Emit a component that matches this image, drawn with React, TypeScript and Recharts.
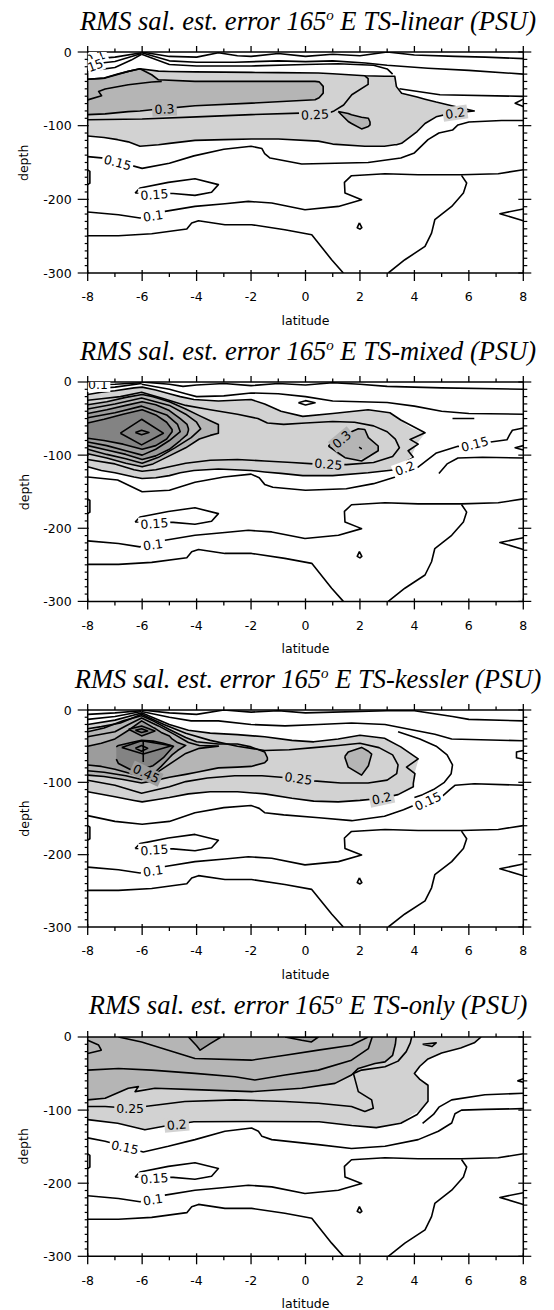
import React from "react";
import { ComposedChart, Line, Area, Scatter, XAxis, YAxis } from "recharts";

// [latitude, depth]
type Pt = [number, number];
// [latitude, lower depth, upper depth]
type Band = [number, number, number];
// [latitude, depth, text, angle, background colour]
type Lbl = [number, number, string, number, string];

const LAT_TICKS = [-8, -7, -6, -5, -4, -3, -2, -1, 0, 1, 2, 3, 4, 5, 6, 7, 8];
const DEPTH_TICKS = [
  0, -10, -20, -30, -40, -50, -60, -70, -80, -90, -100, -110, -120, -130, -140, -150,
  -160, -170, -180, -190, -200, -210, -220, -230, -240, -250, -260, -270, -280, -290, -300,
];

const LIGHT = "#d2d2d2";
const MED = "#b5b5b5";
const DARK = "#9c9c9c";
const DARKEST = "#838383";
const WHITE = "#ffffff";

// ---- contours shared by all four sections (below ~150 m) ----
const lowIsland015: Pt[] = [[-6.26, -191.5], [-6.08, -184.7], [-5.04, -177], [-4.06, -172], [-3.2, -180], [-3.45, -190.5], [-4.06, -194.6], [-4.86, -192], [-6.26, -191.5]];
const low010: Pt[] = [[-8, -217.2], [-6.87, -220.9], [-6.08, -225.4], [-5.16, -216.3], [-4.06, -209.6], [-2.96, -205.9], [-2.1, -202.8], [-1.24, -205], [-0.02, -214.1], [1.21, -209.6], [2.06, -200.5], [1.45, -191.5], [1.43, -177], [1.69, -167.9], [2.92, -165.2], [4.14, -166.6], [5.73, -166.6], [7.08, -165.2], [8, -159.8]];
const low005West: Pt[] = [[-8, -249.4], [-6.87, -249.4], [-5.65, -246.7], [-4.36, -240.3], [-4.18, -232.2], [-3.93, -229], [-2.96, -234.4], [-1.98, -234.4], [-0.76, -241.2], [0.23, -248], [0.96, -282], [1.39, -300]];
const low005East: Pt[] = [[3.04, -300], [3.65, -282], [4.39, -263.9], [4.63, -245.8], [4.75, -227.7], [5.37, -209.6], [5.8, -191.5], [5.92, -177.9], [5.73, -167.5]];
const lowWedge: Pt[] = [[8, -213], [7.14, -219.5], [8, -229]];
const lowDrop: Pt[] = [[1.98, -232], [1.9, -238.5], [2.0, -240.5], [2.07, -238.5], [1.98, -232]];
const edgeBracket: Pt[] = [[-8, -160], [-7.92, -162], [-7.92, -178], [-8, -180]];
const COMMON_LINES = [lowIsland015, low010, low005West, low005East, lowWedge, lowDrop, edgeBracket];
const COMMON_LABELS: Lbl[] = [[-5.55, -193.5, "0.15", -4, WHITE], [-5.6, -222.5, "0.1", -8, WHITE]];

// ---- TS-linear ----
const p1TopA: Pt[] = [[-8, -10], [-7, -7], [-6.02, -1]];
const p1TopB: Pt[] = [[-8, -17], [-7, -13], [-6.02, -2]];
const p1TopC: Pt[] = [[-8, -26], [-7, -21], [-6.4, -11], [-6.02, -3]];
const p1Surface: Pt[] = [[-6.02, 0], [-5, -6], [-4, -7], [-3.2, -1], [-2.5, -5], [-2, -6], [-1, -2], [0, -6], [1, -3], [2, -5], [3, 0], [4, -4], [5.5, -6], [6.6, -7], [8, -9]];
const p1Ridge2: Pt[] = [[-6.02, -1], [-5, -12], [-4, -14], [-2.6, -14], [-1, -12], [0, -13], [1, -12], [2.2, -15], [3, -18], [4.5, -22], [6, -25], [8, -30]];
const p1Ridge3: Pt[] = [[-6.02, -3], [-5, -17], [-4, -19], [-2, -19], [0, -17], [1.2, -16], [2.5, -18], [3.0, -23], [3.2, -30]];
const p1East60: Pt[] = [[3.45, -50], [4.94, -58], [8, -60.2]];
const p1Light: Band[] = [[-8, -114, -37], [-7.4, -116, -35.4], [-6.9, -119, -30], [-6.51, -122, -26.3], [-6.08, -128, -22.7], [-5.4, -126, -26], [-5, -124, -26.5], [-4.06, -120, -27], [-3, -119, -27.3], [-1.98, -118, -27.7], [-1, -118, -28], [0.47, -121, -28.6], [1, -125, -29.5], [2.18, -128, -32.2], [2.9, -128, -33], [3.28, -126, -33], [3.34, -126, -47], [3.53, -124, -56], [4.1, -108, -61], [4.39, -97, -64], [4.8, -88, -68], [5.37, -83, -73], [6.2, -80, -80]];
const p1Mid: Band[] = [[-8, -85, -37], [-7.36, -84, -35.4], [-6.51, -81, -26.3], [-6.08, -80, -22.7], [-5.65, -78.4, -30.9], [-5.4, -77.5, -37.7], [-4.06, -73, -39.9], [-1.98, -69.4, -39.9], [0.35, -64.9, -39.9], [0.5, -62, -40.5], [0.65, -55.8, -46.7]];
const p1Notch: Pt[] = [[-8, -65], [-7.49, -59.4], [-7.6, -53.5], [-7.36, -50.3], [-6.51, -44.4], [-5.65, -40.8], [-5.28, -39.9]];
const p1Blob: Band[] = [[1.2, -80.8, -80.8], [1.57, -94.4, -83.5], [1.69, -97, -85.3], [2.06, -104.4, -88.5], [2.31, -101, -89.9], [2.37, -99, -95]];
const p1C025: Pt[] = [[-8, -92], [-6, -91], [-4, -88], [-2, -85], [-0.2, -83], [0.9, -82], [1.05, -80], [1.4, -72], [1.7, -58], [2.3, -44], [2.3, -36], [2.18, -32.5]];
const p1C015: Pt[] = [[-8, -142], [-7.4, -144], [-6, -158], [-5, -151], [-4.1, -141], [-3, -132], [-2, -128], [-1.6, -131], [-1.5, -138], [-1.3, -144], [-0.14, -152], [1.1, -151], [2.3, -150], [3.5, -144], [4, -137], [4.5, -119], [4.9, -110], [5.4, -106], [5.6, -99], [6, -95], [7.2, -93], [8, -93]];
const p1Wedge: Pt[] = [[8, -64], [7.7, -69.5], [8, -74]];
const p1Labels: Lbl[] = [[-7.72, -7, "0.1", -20, WHITE], [-7.72, -18, "15", -20, WHITE], [-5.18, -77.5, "0.3", -3, MED], [0.35, -85, "0.25", -3, LIGHT], [5.5, -83, "0.2", -8, LIGHT], [-6.9, -150, "0.15", 15, WHITE]];

// ---- TS-mixed ----
const p2TopA: Pt[] = [[-8, -4], [-7, -3], [-6.02, -1]];
const p2TopB: Pt[] = [[-8, -10], [-7, -7], [-6.02, -2]];
const p2Surface: Pt[] = [[-6.02, 0], [-5, -3], [-4.5, -6], [-4, -4], [-3, -2], [-2, -5], [-1, -2], [0, -4], [1, -1], [2, -3], [3, -6], [5, -8], [8, -10]];
const p2Ridge2: Pt[] = [[-6.02, -3], [-5, -10], [-4.4, -16], [-4, -20], [-3, -19], [-2, -15], [-1, -16], [0, -20], [1, -26], [2, -27], [3, -28], [4, -33], [5, -40], [6, -43], [8, -44]];
const p2Diamond: Pt[] = [[-0.26, -28.5], [0, -25.5], [0.35, -28.5], [0, -31.5], [-0.26, -28.5]];
const p2Light: Band[] = [[-8, -116, -17], [-7.5, -121, -14], [-7, -124, -12], [-6.3, -130, -8], [-6, -132, -7], [-5.5, -131, -11], [-5, -128, -16], [-4.6, -124, -20], [-4.1, -121, -24], [-3.2, -119, -26], [-2, -121, -24], [-1.5, -123, -30], [-0.9, -125, -40], [-0.1, -128, -47], [1, -128, -43], [2.3, -124, -38], [3.1, -121, -42], [3.5, -116, -52], [3.7, -110, -58], [3.9, -100, -63], [4.1, -84, -66], [4.39, -70, -70]];
const p2LightEdge: Pt[] = [[-8, -17], [-7.5, -14], [-7, -12], [-6.3, -8], [-6, -7], [-5.5, -11], [-5, -16], [-4.6, -20], [-4.1, -24], [-3.2, -26], [-2, -24], [-1.5, -30], [-0.9, -40], [-0.1, -47], [1, -43], [2.3, -38], [3.1, -42], [3.5, -52], [4.39, -69.5], [3.84, -78.5], [4.14, -85], [3.77, -94], [3.96, -103], [3.65, -110], [3.3, -120], [2.3, -124], [1, -128], [-0.1, -128], [-0.9, -125], [-1.5, -123], [-2, -121], [-3.2, -119], [-4.1, -121], [-4.6, -124], [-5, -128], [-5.5, -131], [-6, -132], [-6.3, -130], [-7, -124], [-7.5, -121], [-8, -116]];
const p2C025: Pt[] = [[-8, -106], [-7, -112], [-6.3, -120], [-6, -122], [-5.5, -120], [-5, -116], [-4.4, -111], [-3.5, -107], [-2.5, -106], [-1.5, -108], [-0.5, -110], [0.3, -112], [1.5, -113], [2.5, -110], [3.2, -102], [3.45, -90], [3.3, -78], [3.0, -68], [2.5, -60], [1.8, -55], [1, -54], [0, -56], [-0.8, -58], [-1.4, -56], [-1.75, -50], [-2.5, -44], [-3.5, -38], [-4.4, -32], [-5.2, -23], [-6.02, -14], [-6.8, -20], [-7.5, -23], [-8, -25]];
const p2Mid: Band[] = [[-8, -98, -31], [-7.3, -104, -27], [-6.6, -111, -21], [-6, -116, -17], [-5.6, -112, -20], [-5, -101, -27], [-4.4, -90, -37], [-3.9, -78, -46], [-3.5, -73, -53], [-3.2, -70, -58]];
const p2C035: Pt[] = [[-8, -37], [-7, -30], [-6.02, -22], [-5, -32], [-4.4, -44], [-4.0, -55], [-3.85, -64], [-4.2, -76], [-4.8, -90], [-5.4, -103], [-6, -111], [-6.6, -105], [-7.3, -99], [-8, -92]];
const p2Dark: Band[] = [[-8, -87, -43], [-7.3, -93, -38], [-6.6, -99, -32], [-6, -106, -27], [-5.5, -101, -31], [-5, -92, -39], [-4.6, -80, -50], [-4.35, -72, -58], [-4.3, -66, -64]];
const p2C045: Pt[] = [[-8, -49], [-7, -42], [-6.02, -33], [-5.1, -45], [-4.7, -58], [-4.6, -68], [-5, -80], [-5.5, -92], [-6, -100], [-6.6, -94], [-7.3, -87], [-8, -82]];
const p2Core: Band[] = [[-8, -77, -56], [-7.4, -80, -51], [-6.7, -85, -44], [-6, -92, -38], [-5.5, -87, -45], [-5.1, -78, -55], [-4.9, -68, -65]];
const p2Ring55: Pt[] = [[-6.8, -70], [-6.02, -51], [-5.22, -70], [-6.02, -86], [-6.8, -70]];
const p2Ring60: Pt[] = [[-6.25, -69], [-6.02, -66], [-5.75, -69], [-6.02, -72], [-6.25, -69]];
const p2Blob: Band[] = [[0.84, -87.5, -87.5], [1.2, -100, -76], [1.45, -103.5, -72], [1.94, -106, -64], [2.18, -104, -65], [2.31, -100, -76], [2.67, -94, -87.5]];
const p2BlobEdge: Pt[] = [[0.84, -87.5], [1.2, -76], [1.94, -64], [2.18, -65], [2.31, -76], [2.67, -87.5], [2.67, -94], [2.06, -108], [1.45, -103.5], [0.84, -87.5]];
const p2BlobDot: Pt[] = [[1.97, -89], [2.05, -91], [1.97, -89]];
const p2C015: Pt[] = [[-8, -130], [-6.9, -134], [-6, -150], [-5, -148], [-4.06, -137], [-3, -130], [-2, -126], [-1.7, -131], [-1.5, -140], [-1.2, -144], [0, -148], [1.5, -146], [2.5, -139], [3.3, -130], [4.04, -119], [4.81, -97], [5.6, -88], [6.2, -85], [6.8, -82], [7.4, -79], [7.5, -72], [7.6, -66], [8, -63]];
const p2East: Pt[] = [[4.9, -125], [5.2, -112], [5.6, -104], [6.5, -103], [8, -104]];
const p2Wedge: Pt[] = [[8, -87], [7.7, -90], [8, -93]];
const p2Dash: Pt[] = [[5.4, -50], [6.2, -50]];
const p2Labels: Lbl[] = [[-7.62, -4, "0.1", 0, WHITE], [1.33, -78.5, "0.3", -40, MED], [0.84, -112.5, "0.25", 5, LIGHT], [3.65, -118, "0.2", -20, WHITE], [6.22, -85, "0.15", -15, WHITE]];

// ---- TS-kessler ----
const p3TopA: Pt[] = [[-8, -6], [-7, -4], [-6.02, -1]];
const p3TopB: Pt[] = [[-8, -13], [-7, -9], [-6.02, -2]];
const p3Surface: Pt[] = [[-6.02, 0], [-5, -4], [-4, -6], [-3, 0], [-2, -3], [-1, -1], [0, -4], [1, -3], [2, -2], [3, -1], [4, -1], [5.4, -9], [6, -13], [8, -15]];
const p3Ridge2: Pt[] = [[-6.02, -2], [-5, -10], [-4.2, -15], [-3.2, -15], [-2, -20], [-0.75, -22], [0.47, -20], [1.69, -18], [2.92, -20], [4.14, -29], [4.75, -33.5], [5.37, -40], [8, -42.6]];
const p3Light: Band[] = [[-8, -113, -20], [-7, -120, -14], [-6.3, -125, -7], [-6, -127, -4], [-5.5, -124, -12], [-5, -121, -20], [-4.3, -116, -28], [-3.5, -113, -32], [-2.5, -113, -34], [-1.5, -116, -37], [-0.5, -122, -42], [0.3, -126, -44], [1.2, -127, -40], [2, -125, -35], [2.8, -122, -39], [3.4, -117, -49], [3.8, -110, -58], [3.96, -104, -63], [4.0, -88, -65], [4.14, -70, -67.5]];
const p3LightEdge: Pt[] = [[-8, -20], [-7, -14], [-6.3, -7], [-6, -4], [-5.5, -12], [-5, -20], [-4.3, -28], [-3.5, -32], [-2.5, -34], [-1.5, -37], [-0.5, -42], [0.3, -44], [1.2, -40], [2, -35], [2.9, -39], [3.5, -51], [4.14, -67.5], [3.71, -79], [4.02, -88], [3.96, -101.5], [3.96, -106], [3.4, -117], [2.8, -122], [2, -125], [1.2, -127], [0.3, -126], [-0.5, -122], [-1.5, -116], [-2.5, -113], [-3.5, -113], [-4.3, -116], [-5, -121], [-5.5, -124], [-6, -127], [-6.3, -125], [-7, -120], [-8, -113]];
const p3C025: Pt[] = [[-8, -97], [-7, -104], [-6.02, -115], [-5, -106], [-4.4, -99], [-3.6, -94], [-2.6, -91], [-1.6, -91], [-0.9, -93], [0.3, -98], [1.3, -101], [2.3, -101], [3, -97], [3.35, -88], [3.4, -76], [3.2, -62], [2.7, -52], [2, -46], [1.2, -49], [0.3, -52], [-0.6, -55], [-1.5, -56], [-2.5, -50], [-3.5, -42], [-4.4, -32], [-5.2, -20], [-6.02, -6], [-6.8, -18], [-7.5, -23], [-8, -26]];
const p3Mid: Band[] = [[-8, -90, -30], [-7.4, -92, -25], [-6.7, -96, -15], [-6.02, -101, -8], [-5.6, -98, -15], [-5, -93, -27], [-4.4, -89, -38], [-4, -86, -44], [-3.2, -80, -47], [-2.5, -79, -47], [-2, -78, -51], [-1.5, -73, -58], [-1.4, -69, -66]];
const p3C035: Pt[] = [[-8, -37], [-7, -30], [-6.5, -20], [-6.02, -11], [-5.4, -22], [-4.8, -34], [-4.3, -45], [-3.9, -49], [-3.2, -50], [-3.9, -53], [-4.4, -60], [-4.8, -70], [-5.2, -80], [-5.6, -90], [-6.02, -96], [-6.6, -91], [-7.4, -86], [-8, -84]];
const p3Dark: Band[] = [[-8, -76, -50], [-7.5, -78, -46], [-7, -82, -40], [-6.5, -87, -28], [-6.02, -91, -15], [-5.6, -87, -24], [-5.5, -85, -26], [-5.3, -78, -31], [-5.0, -66, -36], [-4.9, -62, -40], [-4.7, -56, -45], [-4.4, -49, -49]];
const p3Core: Band[] = [[-6.95, -68, -51], [-6.87, -74, -49], [-6.4, -83, -45], [-6.02, -82, -42], [-5.6, -77, -43], [-5.22, -66, -46], [-4.85, -50, -50]];
const p3UpperPeak: Band[] = [[-6.5, -26.7, -26.7], [-6.02, -35.8, -22.2], [-5.53, -29, -29]];
const p3Eye: Pt[] = [[-6.75, -51.7], [-6.02, -42.6], [-4.92, -49.4], [-5.96, -60.7], [-6.75, -51.7]];
const p3EyeRing: Pt[] = [[-6.25, -53], [-6.02, -49], [-5.8, -53], [-6.02, -57], [-6.25, -53]];
const p3Stem: Pt[] = [[-5.96, -43], [-5.96, -72]];
const p3UpperRing: Pt[] = [[-6.25, -28], [-6.02, -26], [-5.8, -29], [-6.02, -31], [-6.25, -28]];
const p3Blob: Band[] = [[1.45, -66, -64], [1.57, -79, -58], [2.06, -90, -51.7], [2.31, -77, -57], [2.43, -61, -61]];
const p3Outer: Pt[] = [[3.4, -30], [4.2, -40], [4.8, -50], [5.2, -62], [5.4, -76], [5.35, -88], [5.1, -100], [4.7, -110], [4.3, -117], [4.0, -121]];
const p3C015: Pt[] = [[-8, -146], [-7, -154], [-6, -158], [-5, -154], [-4.06, -142], [-3, -135], [-2, -132], [-1.7, -136], [-1.5, -142], [-0.8, -145], [0.5, -149], [1.7, -153], [2.9, -147], [3.6, -138], [4.1, -130], [4.5, -126], [5, -120], [5.3, -110], [5.5, -104], [6.2, -102], [8, -104]];
const p3EdgeC: Pt[] = [[8, -56], [7.75, -58], [7.75, -66], [8, -68]];
const p3Labels: Lbl[] = [[-5.85, -88, "0.45", 25, DARK], [-0.26, -94.7, "0.25", 8, LIGHT], [2.8, -122, "0.2", -12, LIGHT], [4.5, -126, "0.15", -25, WHITE]];

// ---- TS-only ----
const p4Light: Band[] = [[-8, -113, 0], [-6.9, -118, 0], [-5.9, -127, 0], [-5.2, -122, 0], [-4.1, -116, 0], [-2, -115.5, 0], [0.5, -116, 0], [1.7, -121, 0], [2.6, -124, 0], [3.5, -118, 0], [4.0, -104, 0], [4.0, -50, 0], [4.2, -40, 0], [4.5, -30, 0], [5.0, -22, 0], [5.7, -15, 0], [6.2, -8, 0], [6.45, 0, 0]];
const p4LightBulge: Band[] = [[3.95, -106, -50], [4.2, -100, -58], [4.5, -88, -66]];
const p4LightEdge: Pt[] = [[-8, -113], [-6.9, -118], [-5.9, -127], [-5.2, -122], [-4.1, -116], [-2, -115.5], [0.5, -116], [1.7, -121], [2.6, -124], [3.5, -118], [4.1, -106], [4.5, -88], [4.5, -66], [4.2, -58], [4.0, -50], [4.2, -40], [4.5, -30], [5, -22], [5.7, -15], [6.2, -8], [6.45, 0]];
const p4Mid: Band[] = [[-8, -86, 0], [-7.36, -83.8, 0], [-6.9, -76, 0], [-6.51, -70.2, 0], [-6.14, -70, 0], [-5.53, -70.2, 0], [-3.81, -72.4, 0], [-1.98, -74.7, 0], [-0.14, -70.2, 0], [1.08, -63.4, 0], [1.69, -52, 0], [1.94, -43, 0], [2.55, -36.2, 0], [2.92, -34, 0], [3.2, -25, 0], [3.3, -10, 0], [3.33, 0, 0]];
const p4C030: Pt[] = [[-8, -86], [-7.36, -83.8], [-6.51, -70.2], [-6.14, -67.9], [-6.26, -74.7], [-5.53, -70.2], [-3.81, -72.4], [-1.98, -74.7], [-0.14, -70.2], [1.08, -63.4], [1.69, -52], [1.94, -43], [2.55, -36.2], [2.92, -34], [3.2, -25], [3.3, -10], [3.33, 0]];
const p4C035: Pt[] = [[-8, -45.3], [-6.87, -43], [-5.65, -45.3], [-4.06, -49.8], [-2.59, -54.3], [-1.86, -58.9], [-0.75, -52], [0.47, -45.3], [1.69, -31.7], [2.31, -15.8], [2.45, 0]];
const p4C040: Pt[] = [[-6.87, 0], [-6.02, -6.8], [-5.04, -18], [-4.06, -29.4], [-1.98, -31.7], [-0.75, -24.9], [0.47, -18], [1.69, -11.3], [2.3, 0]];
const p4PeakWest: Band[] = [[-4.3, 0, 0], [-4.0, -12, 0], [-3.87, -18, 0], [-3.5, -9, 0], [-3.1, 0, 0]];
const p4PeakEast: Band[] = [[-0.75, 0, 0], [-0.14, -4.5, 0], [0.22, -6.8, 0], [0.47, 0, 0]];
const p4C025: Pt[] = [[-8, -95], [-7.36, -95], [-6.44, -97.4], [-5.9, -95], [-4.43, -88.3], [-2.59, -86], [-0.75, -88.3], [0.47, -90.6], [1.69, -95], [2.18, -101.9], [2.49, -97.4], [2.43, -86], [1.94, -74.7], [1.76, -49.8], [2.06, -45.3], [2.92, -40.7], [3.4, -33], [3.7, -20], [3.85, -8], [3.9, 0]];
const p4Lobe: Pt[] = [[-8, -4.5], [-7.6, -11], [-7.5, -18], [-8, -22.6]];
const p4Tri: Pt[] = [[4.3, -10], [4.8, -8], [4.65, -13], [4.3, -10]];
const p4Wedge: Pt[] = [[8, -57], [7.8, -60], [8, -62]];
const p4East: Pt[] = [[4.3, -118], [4.7, -106], [4.9, -96], [5.37, -86], [6.59, -79], [8, -77]];
const p4C015: Pt[] = [[-8, -138], [-7.36, -142.7], [-6.63, -150], [-5.96, -157.2], [-5.04, -149.5], [-4.06, -140.4], [-2.96, -129], [-1.98, -124.5], [-1.73, -129], [-1.6, -135.9], [-1.24, -140.4], [0.47, -147.2], [1.69, -152.6], [2.92, -149.5], [4.14, -140.4], [4.88, -129], [5.37, -117.7], [5.49, -105], [5.73, -100], [6.59, -99], [8, -98]];
const p4Labels: Lbl[] = [[-6.44, -97.4, "0.25", 0, LIGHT], [-4.73, -120, "0.2", -5, LIGHT], [-6.63, -151, "0.15", 12, WHITE]];

const outline = (rows: Band[]): Pt[] => [
  ...rows.map((r): Pt => [r[0], r[2]]),
  ...rows.slice().reverse().map((r): Pt => [r[0], r[1]]),
];
const closed = (rows: Band[]): Pt[] => {
  const o = outline(rows);
  return [...o, o[0]];
};

interface Fill {
  rows: Band[];
  color: string;
}
interface PanelSpec {
  name: string;
  plotTop: number;
  plotH: number;
  fills: Fill[];
  lines: Pt[][];
  labels: Lbl[];
}

const PANELS: PanelSpec[] = [
  {
    name: "TS-linear",
    plotTop: 52.3,
    plotH: 221,
    fills: [
      { rows: p1Light, color: LIGHT },
      { rows: p1Mid, color: MED },
      { rows: p1Blob, color: MED },
    ],
    lines: [p1TopA, p1TopB, p1TopC, p1Surface, p1Ridge2, p1Ridge3, p1East60, outline(p1Light), outline(p1Mid), p1Notch, closed(p1Blob), p1C025, p1C015, p1Wedge],
    labels: p1Labels,
  },
  {
    name: "TS-mixed",
    plotTop: 382.3,
    plotH: 219.4,
    fills: [
      { rows: p2Light, color: LIGHT },
      { rows: p2Mid, color: MED },
      { rows: p2Blob, color: MED },
      { rows: p2Dark, color: DARK },
      { rows: p2Core, color: DARKEST },
    ],
    lines: [p2TopA, p2TopB, p2Surface, p2Ridge2, p2Diamond, p2LightEdge, p2C025, outline(p2Mid), p2C035, outline(p2Dark), p2C045, outline(p2Core), p2Ring55, p2Ring60, p2BlobEdge, p2BlobDot, p2C015, p2East, p2Wedge, p2Dash],
    labels: p2Labels,
  },
  {
    name: "TS-kessler",
    plotTop: 710,
    plotH: 217,
    fills: [
      { rows: p3Light, color: LIGHT },
      { rows: p3Mid, color: MED },
      { rows: p3Blob, color: MED },
      { rows: p3Dark, color: DARK },
      { rows: p3Core, color: DARKEST },
      { rows: p3UpperPeak, color: DARKEST },
    ],
    lines: [p3TopA, p3TopB, p3Surface, p3Ridge2, p3LightEdge, p3C025, outline(p3Mid), p3C035, outline(p3Dark), outline(p3Core), closed(p3UpperPeak), p3Eye, p3EyeRing, p3Stem, p3UpperRing, closed(p3Blob), p3Outer, p3C015, p3EdgeC],
    labels: p3Labels,
  },
  {
    name: "TS-only",
    plotTop: 1036.7,
    plotH: 219.3,
    fills: [
      { rows: p4Light, color: LIGHT },
      { rows: p4LightBulge, color: LIGHT },
      { rows: p4Mid, color: MED },
      { rows: p4PeakWest, color: DARK },
      { rows: p4PeakEast, color: DARK },
    ],
    lines: [p4LightEdge, p4C030, p4C035, p4C040, outline(p4PeakWest), outline(p4PeakEast), p4C025, p4Lobe, p4Tri, p4Wedge, p4East, p4C015],
    labels: p4Labels,
  },
];

const AXIS_LINE = { stroke: "#000", strokeWidth: 1.5 };
const TICK_FONT = "DejaVu Sans";

const BottomTick = (props: any) => {
  const { x, y, payload } = props;
  const v = payload.value;
  const major = v % 2 === 0;
  return (
    <g>
      <line x1={x} x2={x} y1={major ? y - 3 : y} y2={major ? y + 8 : y + 4} stroke="#000" strokeWidth={1.3} />
      {major && (
        <text x={x} y={y + 28.4} textAnchor="middle" fontFamily={TICK_FONT} fontSize={12.5} fill="#000">
          {v}
        </text>
      )}
    </g>
  );
};

const TopTick = (props: any) => {
  const { x, y, payload } = props;
  const major = payload.value % 2 === 0;
  return <line x1={x} x2={x} y1={y} y2={major ? y - 6 : y - 3.5} stroke="#000" strokeWidth={1.3} />;
};

const LeftTick = (props: any) => {
  const { x, y, payload } = props;
  const v = payload.value;
  const major = v % 100 === 0;
  return (
    <g>
      <line x1={major ? x - 10 : x - 3} x2={major ? x + 1 : x} y1={y} y2={y} stroke="#000" strokeWidth={1.2} />
      {major && (
        <text x={x - 16} y={y + 4.5} textAnchor="end" fontFamily={TICK_FONT} fontSize={12.5} fill="#000">
          {v}
        </text>
      )}
    </g>
  );
};

const RightTick = (props: any) => {
  const { x, y, payload } = props;
  const major = payload.value % 100 === 0;
  return <line x1={major ? x - 5 : x} x2={major ? x + 8 : x + 4} y1={y} y2={y} stroke="#000" strokeWidth={1.2} />;
};

const ContourLabel = (props: any) => {
  const { cx, cy, payload } = props;
  if (cx == null || cy == null) return <g />;
  const w = payload.t.length * 7.2 + 3;
  return (
    <g transform={`rotate(${payload.a} ${cx} ${cy})`}>
      <rect x={cx - w / 2} y={cy - 7} width={w} height={14} fill={payload.bg} />
      <text x={cx} y={cy + 4.5} textAnchor="middle" fontFamily={TICK_FONT} fontSize={12.5} fill="#000">
        {payload.t}
      </text>
    </g>
  );
};

function Panel({ spec }: { spec: PanelSpec }) {
  const h = spec.plotH + 80;
  const lines = [...spec.lines, ...COMMON_LINES];
  const labels = [...spec.labels, ...COMMON_LABELS].map(([lat, d, t, a, bg]) => ({ lat, d, t, a, bg }));
  return (
    <div style={{ position: "absolute", left: 0, top: spec.plotTop - 20, width: 554, height: h }}>
      <ComposedChart width={554} height={h} margin={{ top: 10, right: 10.7, bottom: 30, left: 57.7 }}>
        <XAxis
          dataKey="lat"
          type="number"
          domain={[-8, 8]}
          ticks={LAT_TICKS}
          interval={0}
          allowDataOverflow
          height={30}
          tickSize={0}
          tickMargin={0}
          tickLine={false}
          axisLine={AXIS_LINE}
          tick={(p: any) => <BottomTick {...p} />}
        />
        <XAxis
          xAxisId="top"
          orientation="top"
          dataKey="lat"
          type="number"
          domain={[-8, 8]}
          ticks={LAT_TICKS}
          interval={0}
          allowDataOverflow
          height={10}
          tickSize={0}
          tickMargin={0}
          tickLine={false}
          axisLine={AXIS_LINE}
          tick={(p: any) => <TopTick {...p} />}
        />
        <YAxis
          dataKey="d"
          type="number"
          domain={[-300, 0]}
          ticks={DEPTH_TICKS}
          interval={0}
          allowDataOverflow
          width={30}
          tickSize={0}
          tickMargin={0}
          tickLine={false}
          axisLine={AXIS_LINE}
          tick={(p: any) => <LeftTick {...p} />}
        />
        <YAxis
          yAxisId="right"
          orientation="right"
          dataKey="d"
          type="number"
          domain={[-300, 0]}
          ticks={DEPTH_TICKS}
          interval={0}
          allowDataOverflow
          width={20}
          tickSize={0}
          tickMargin={0}
          tickLine={false}
          axisLine={AXIS_LINE}
          tick={(p: any) => <RightTick {...p} />}
        />
        {spec.fills.map((f, i) => (
          <Area
            key={"f" + i}
            data={f.rows.map(([lat, lo, hi]) => ({ lat, band: [lo, hi] }))}
            dataKey="band"
            type="linear"
            stroke="none"
            fill={f.color}
            fillOpacity={1}
            dot={false}
            activeDot={false}
            isAnimationActive={false}
          />
        ))}
        {lines.map((l, i) => (
          <Line
            key={"l" + i}
            data={l.map(([lat, d]) => ({ lat, d }))}
            dataKey="d"
            type="linear"
            stroke="#000"
            strokeWidth={1.6}
            strokeLinejoin="round"
            dot={false}
            activeDot={false}
            isAnimationActive={false}
          />
        ))}
        <Scatter data={labels} dataKey="d" isAnimationActive={false} shape={(p: any) => <ContourLabel {...p} />} />
      </ComposedChart>
    </div>
  );
}

export default function App() {
  return (
    <div style={{ position: "absolute", left: 0, top: 0, width: 554, height: 1310, background: "#fff", overflow: "hidden" }}>
      <svg width={554} height={1310} style={{ position: "absolute", left: 0, top: 0 }}>
        {PANELS.map((p) => {
          const mid = p.plotTop + p.plotH / 2;
          return (
            <g key={p.name}>
              <text
                x={308}
                y={p.plotTop - 22.5}
                textAnchor="middle"
                fontFamily="'Liberation Serif', 'Times New Roman', serif"
                fontStyle="italic"
                fontSize={26.5}
                fill="#000"
              >
                RMS sal. est. error 165
                <tspan dy={-10} fontSize={15}>o</tspan>
                <tspan dy={10}>{` E ${p.name} (PSU)`}</tspan>
              </text>
              <text
                x={28.5}
                y={mid}
                transform={`rotate(-90 28.5 ${mid})`}
                textAnchor="middle"
                fontFamily={TICK_FONT}
                fontSize={12.5}
                fill="#000"
              >
                depth
              </text>
              <text x={305.5} y={p.plotTop + p.plotH + 51.7} textAnchor="middle" fontFamily={TICK_FONT} fontSize={12.5} fill="#000">
                latitude
              </text>
            </g>
          );
        })}
      </svg>
      {PANELS.map((p) => (
        <Panel key={p.name} spec={p} />
      ))}
    </div>
  );
}
